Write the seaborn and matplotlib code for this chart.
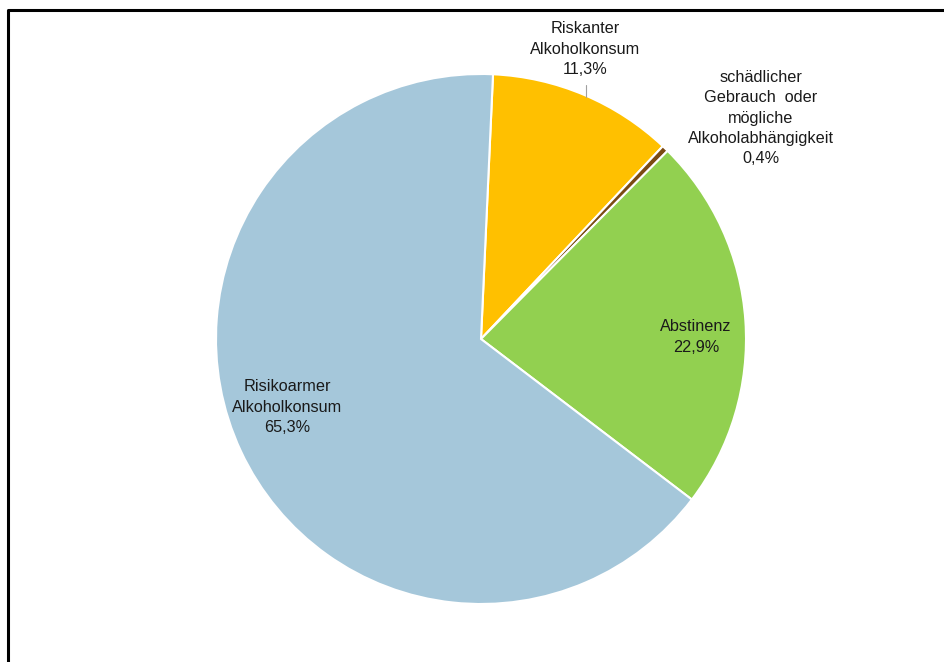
import numpy as np
import matplotlib
matplotlib.use("Agg")
import matplotlib.pyplot as plt
import seaborn as sns
from matplotlib.lines import Line2D

# data, clockwise from the top
labels = ["Riskanter\nAlkoholkonsum",
          "schädlicher\nGebrauch  oder\nmögliche\nAlkoholabhängigkeit",
          "Abstinenz",
          "Risikoarmer\nAlkoholkonsum"]
values = [11.3, 0.4, 22.9, 65.3]
colors = ["#FFC000", "#7B4A12", "#92D050", "#A5C7DA"]

sns.set_style("white")
plt.rcParams['font.family'] = ['Liberation Sans', 'DejaVu Sans']

fig = plt.figure(figsize=(9.45, 6.62), dpi=100)
ax = fig.add_axes([0, 0, 1, 1])

W, H = 945, 662
cx, cy, r = 481, H - 339, 265

wedges, _ = ax.pie(values, colors=sns.color_palette(colors), startangle=87.4,
                   counterclock=False, center=(cx, cy), radius=r,
                   wedgeprops=dict(edgecolor="white", linewidth=1.5))
ax.set_xlim(0, W)
ax.set_ylim(0, H)
ax.set_aspect("auto")
ax.axis("off")

# label positions (pixel coords from top)
label_pos = [(585, 49), (761, 118), (696, 337), (287, 407)]
for lab, v, (x, y) in zip(labels, values, label_pos):
    txt = lab + "\n" + f"{v:.1f}".replace(".", ",") + "%"
    ax.text(x, H - y, txt, ha="center", va="center", fontsize=11.7,
            color="#1a1a1a", linespacing=1.42)

# leader line for Riskanter
ax.plot([586, 586], [H - 85, H - 97], color="#A0A0A0", lw=0.8)

# frame: only top and left edges are visible
fy = (H - 10) / H
fx = 8 / W
fig.lines.append(Line2D([fx, fx, 1.2], [-0.1, fy, fy], transform=fig.transFigure,
                        color="black", linewidth=2.2))

fig.savefig("out.png", dpi=100)
